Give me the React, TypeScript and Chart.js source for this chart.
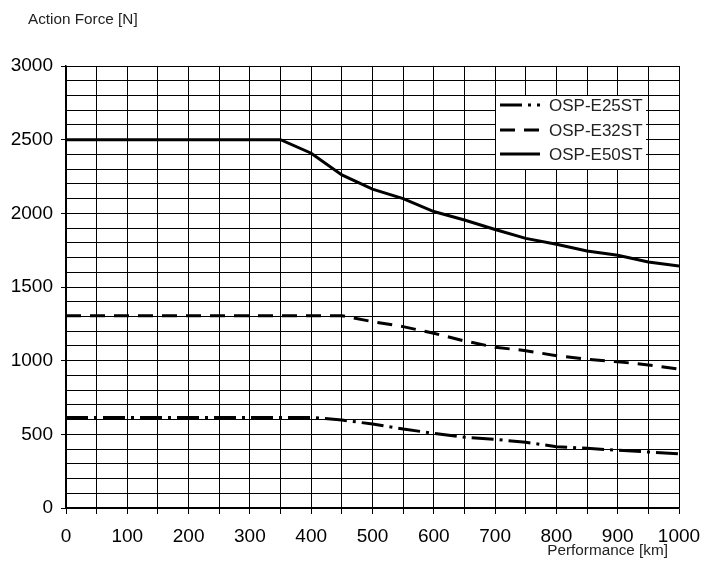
import React, { useEffect, useRef } from "react";
import { Chart, registerables } from "chart.js";

Chart.register(...registerables);

const xValues = [0, 50, 100, 150, 200, 250, 300, 350, 400, 450, 500, 550, 600, 650, 700, 750, 800, 850, 900, 950, 1000];
const e25st = [615, 615, 615, 615, 615, 615, 615, 615, 615, 597, 570, 536, 507, 480, 466, 446, 416, 405, 392, 380, 367];
const e32st = [1305, 1305, 1305, 1305, 1305, 1305, 1305, 1305, 1305, 1305, 1265, 1231, 1186, 1134, 1091, 1068, 1034, 1009, 993, 971, 942];
const e50st = [2500, 2500, 2500, 2500, 2500, 2500, 2500, 2500, 2408, 2261, 2164, 2100, 2012, 1955, 1890, 1830, 1790, 1745, 1715, 1670, 1642];
const seriesLabels = ["OSP-E25ST", "OSP-E32ST", "OSP-E50ST"];
const yTitle = "Action Force [N]";
const xTitle = "Performance [km]";

const FONT = "'Liberation Sans', Arial, Helvetica, sans-serif";
const dashes = [[22, 6, 3, 6], [15, 9], []];

const overlayPlugin = {
  id: "overlay",
  afterDraw(chart: any) {
    const ctx = chart.ctx;
    ctx.save();
    // legend box
    ctx.fillStyle = "#fff";
    ctx.fillRect(496, 96, 150, 73);
    const rows = [105, 130, 154];
    chart.data.datasets.forEach((ds: any, i: number) => {
      ctx.strokeStyle = "#000";
      ctx.lineWidth = 3;
      ctx.setLineDash(ds.borderDash || []);
      ctx.beginPath();
      ctx.moveTo(500, rows[i]);
      ctx.lineTo(540, rows[i]);
      ctx.stroke();
      ctx.setLineDash([]);
      ctx.fillStyle = "#222";
      ctx.font = `17px ${FONT}`;
      ctx.textBaseline = "middle";
      ctx.textAlign = "left";
      ctx.fillText(ds.label, 549, rows[i] + 1);
    });
    // titles
    ctx.fillStyle = "#222";
    ctx.font = `15.3px ${FONT}`;
    ctx.textBaseline = "middle";
    ctx.textAlign = "left";
    ctx.fillText(yTitle, 28, 20);
    ctx.textAlign = "right";
    ctx.fillText(xTitle, 668, 551);
    ctx.restore();
  },
};

export default function App() {
  const ref = useRef<HTMLCanvasElement | null>(null);
  useEffect(() => {
    if (!ref.current) return;
    const data = [e25st, e32st, e50st];
    const chart = new Chart(ref.current, {
      type: "line",
      data: {
        datasets: data.map((vals, i) => ({
          label: seriesLabels[i],
          data: xValues.map((x, j) => ({ x, y: vals[j] })),
          borderColor: "#000",
          borderWidth: 3,
          borderDash: dashes[i],
          pointRadius: 0,
          tension: 0,
          fill: false,
        })),
      },
      options: {
        animation: false,
        responsive: true,
        maintainAspectRatio: false,
        layout: { padding: { top: 66, right: 27, left: 0, bottom: 0 } },
        plugins: { legend: { display: false }, tooltip: { enabled: false } },
        scales: {
          x: {
            type: "linear",
            min: 0,
            max: 1000,
            afterFit: (s: any) => { s.height = 66; s.paddingLeft = 0; s.paddingRight = 0; },
            ticks: {
              stepSize: 50,
              autoSkip: false,
              maxRotation: 0,
              padding: 11,
              color: "#000",
              font: { family: FONT, size: 19 },
              callback: (v: any) => (Number(v) % 100 === 0 ? String(v) : ""),
            },
            grid: { color: "#000", lineWidth: 1, tickLength: 6, tickColor: "#000" },
            border: { color: "#000", width: 1.5 },
          },
          y: {
            min: 0,
            max: 3000,
            afterFit: (s: any) => { s.width = 66; s.paddingTop = 0; s.paddingBottom = 0; },
            ticks: {
              stepSize: 100,
              autoSkip: false,
              padding: 8,
              color: "#000",
              font: { family: FONT, size: 19 },
              callback: (v: any) => (Number(v) % 500 === 0 ? String(v) : ""),
            },
            grid: {
              color: "#000",
              lineWidth: 1,
              tickLength: 5,
              tickColor: (c: any) => (c.tick && c.tick.value % 500 === 0 ? "#000" : "rgba(0,0,0,0)"),
            },
            border: { color: "#000", width: 1.5 },
          },
        },
      },
      plugins: [overlayPlugin],
    } as any);
    return () => chart.destroy();
  }, []);
  return (
    <div style={{ position: "fixed", left: 0, top: 0, width: 706, height: 574, background: "#fff" }}>
      <canvas ref={ref} />
    </div>
  );
}
